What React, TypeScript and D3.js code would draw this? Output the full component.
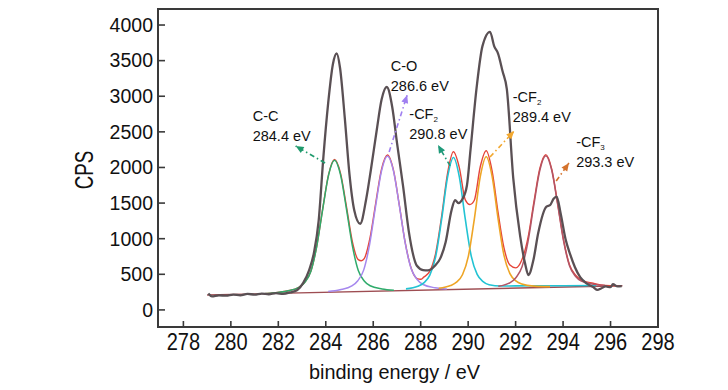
import React from 'react';
import * as d3 from 'd3';

// measured XPS C1s spectrum (binding energy eV, counts per second)
const rawEnergy = [279.05, 279.2, 279.5, 279.8, 280.1, 280.4, 280.7, 281.0, 281.3, 281.6, 281.9, 282.2, 282.5, 282.8, 283.05, 283.3, 283.5, 283.7, 283.9, 284.1, 284.3, 284.46, 284.6, 284.8, 285.0, 285.2, 285.45, 285.7, 285.9, 286.15, 286.35, 286.57, 286.8, 287.0, 287.26, 287.5, 287.84, 288.1, 288.3, 288.6, 288.82, 289.05, 289.3, 289.45, 289.6, 289.75, 289.95, 290.1, 290.36, 290.6, 290.92, 291.1, 291.26, 291.45, 291.63, 291.9, 292.19, 292.4, 292.54, 292.75, 292.95, 293.3, 293.45, 293.6, 293.73, 293.9, 294.1, 294.3, 294.5, 294.72, 295.0, 295.27, 295.45, 295.6, 295.8, 296.0, 296.1, 296.3, 296.47];
const rawCps = [230, 190, 205, 200, 215, 205, 225, 215, 230, 220, 235, 225, 245, 280, 380, 560, 800, 1250, 2150, 2900, 3450, 3600, 3400, 2700, 1900, 1400, 1210, 1550, 1965, 2530, 2950, 3130, 2850, 2350, 1730, 1100, 620, 560, 555, 620, 720, 950, 1400, 1540, 1500, 1550, 1750, 2250, 3130, 3700, 3905, 3700, 3600, 3350, 3100, 1850, 1040, 650, 490, 700, 1076, 1450, 1470, 1560, 1590, 1350, 1000, 780, 600, 460, 370, 320, 280, 300, 330, 320, 360, 330, 335];

// fitted components
const ccEnergy = [281.4, 281.87, 282.37, 282.87, 283.12, 283.37, 283.62, 283.87, 284.12, 284.37, 284.62, 284.87, 285.12, 285.37, 285.62, 285.87, 286.37, 286.87];
const ccCps = [228, 240, 265, 317, 389, 539, 893, 1413, 1896, 2100, 1899, 1420, 902, 553, 407, 339, 295, 277];

const coEnergy = [284.1, 284.6, 285.1, 285.35, 285.6, 285.85, 286.1, 286.35, 286.6, 286.85, 287.1, 287.35, 287.6, 287.85, 288.1, 288.6, 289.1];
const coCps = [257, 282, 336, 410, 562, 924, 1457, 1952, 2160, 1955, 1464, 935, 577, 427, 357, 311, 294];

const cf2aEnergy = [287.38, 287.88, 288.13, 288.38, 288.63, 288.88, 289.13, 289.38, 289.63, 289.88, 290.13, 290.38, 290.63, 290.88, 291.38, 292.0, 293.0, 294.0, 295.4];
const cf2aCps = [295, 332, 380, 484, 745, 1266, 1860, 2140, 1864, 1273, 756, 498, 398, 354, 335, 338, 339, 340, 342];

const cf2bEnergy = [288.76, 289.26, 289.51, 289.76, 290.01, 290.26, 290.51, 290.76, 291.01, 291.26, 291.51, 291.76, 292.01, 292.26, 292.76, 293.45];
const cf2bCps = [304, 342, 390, 494, 755, 1276, 1870, 2150, 1874, 1283, 766, 509, 408, 364, 334, 327];

const cf3Energy = [291.27, 291.77, 292.02, 292.27, 292.52, 292.77, 293.02, 293.27, 293.52, 293.77, 294.02, 294.27, 294.52, 294.77, 295.27, 295.77];
const cf3Cps = [331, 383, 455, 605, 957, 1477, 1960, 2165, 1964, 1485, 969, 619, 473, 405, 361, 344];

// fit envelope
const envEnergy = [281.4, 281.87, 282.37, 282.87, 283.12, 283.37, 283.62, 283.87, 284.12, 284.37, 284.62, 284.87, 285.12, 285.37, 285.5, 285.62, 285.87, 286.1, 286.35, 286.6, 286.85, 287.1, 287.35, 287.6, 287.85, 288.0, 288.13, 288.38, 288.63, 288.88, 289.13, 289.38, 289.63, 289.88, 290.07, 290.26, 290.51, 290.76, 291.01, 291.26, 291.51, 291.76, 292.01, 292.26, 292.52, 292.77, 293.02, 293.27, 293.52, 293.77, 294.02, 294.27, 294.52, 294.77, 295.27, 295.77, 296.3];
const envCps = [228, 240, 265, 318, 390, 541, 896, 1418, 1904, 2112, 1920, 1455, 960, 705, 690, 720, 1020, 1490, 1975, 2175, 1965, 1470, 940, 585, 440, 430, 460, 540, 795, 1310, 1915, 2220, 1995, 1545, 1480, 1540, 2010, 2235, 1950, 1370, 870, 630, 590, 700, 1010, 1515, 1985, 2180, 1980, 1500, 985, 635, 490, 420, 375, 345, 340];

const baseEnergy = [279.0, 296.5];
const baseCps = [210, 340];

const xTicks = [278, 280, 282, 284, 286, 288, 290, 292, 294, 296, 298];
const yTicks = [0, 500, 1000, 1500, 2000, 2500, 3000, 3500, 4000];

// peak labels: name, subscript, energy text
const labelName = ['C-C', 'C-O', '-CF', '-CF', '-CF'];
const labelSub = ['', '', '2', '2', '3'];
const labelEv = ['284.4 eV', '286.6 eV', '290.8 eV', '289.4 eV', '293.3 eV'];
const labelColor = ['#1f9a6c', '#a07ff0', '#1f9a7a', '#f2a830', '#d4722c'];
// text anchor and arrow tail/head in data coords
const labelAt = [[280.92, 2653], [286.74, 3359], [287.52, 2681], [291.88, 2923], [294.55, 2288]];
const arrowTail = [[283.97, 2063], [286.67, 2218], [289.24, 2021], [290.92, 2147], [293.71, 1810]];
const arrowHead = [[282.73, 2302], [287.43, 3018], [288.73, 2316], [291.94, 2512], [294.25, 2063]];

const W = 728, H = 390;
const left = 158, right = 658, top = 9, bottom = 327;

export default function App() {
  const x = d3.scaleLinear().domain([276.93, 298]).range([left, right]);
  const y = d3.scaleLinear().domain([-240, 4225]).range([bottom, top]);

  const line = (xs: number[], ys: number[], curve: any = d3.curveMonotoneX) =>
    d3.line<number>().x((d, i) => x(xs[i])).y((d) => y(d)).curve(curve)(ys) || '';

  // envelope sits under the components, raw data on top
  const series = [
    { xs: baseEnergy, ys: baseCps, color: '#9e4d52', w: 1.4, curve: d3.curveLinear },
    { xs: envEnergy, ys: envCps, color: '#e5453a', w: 1.4 },
    { xs: ccEnergy, ys: ccCps, color: '#2fab6b', w: 1.5 },
    { xs: coEnergy, ys: coCps, color: '#a688ee', w: 1.5 },
    { xs: cf2aEnergy, ys: cf2aCps, color: '#22c3d3', w: 1.6 },
    { xs: cf2bEnergy, ys: cf2bCps, color: '#eea526', w: 1.6 },
    { xs: cf3Energy, ys: cf3Cps, color: '#b25566', w: 1.5 },
    { xs: rawEnergy, ys: rawCps, color: '#5a5054', w: 2.3 },
  ];

  const font = 'Liberation Sans, Arial, sans-serif';

  return (
    <svg width={W} height={H} style={{ position: 'absolute', left: 0, top: 0, background: '#fff' }} fontFamily={font}>
      {series.map((s, i) => (
        <path key={i} d={line(s.xs, s.ys, s.curve)} fill="none" stroke={s.color} strokeWidth={s.w} strokeLinejoin="round" />
      ))}

      {labelName.map((name, i) => {
        const [tx, ty] = labelAt[i];
        const [x1, y1] = arrowTail[i];
        const [x2, y2] = arrowHead[i];
        const px1 = x(x1), py1 = y(y1), px2 = x(x2), py2 = y(y2);
        const ang = Math.atan2(py2 - py1, px2 - px1) * 180 / Math.PI;
        return (
          <g key={i}>
            <line x1={px1} y1={py1} x2={px2} y2={py2} stroke={labelColor[i]} strokeWidth={1.6} strokeDasharray="5,3,1.5,3" />
            <path d="M0,0 L-8,-3.5 L-8,3.5 Z" fill={labelColor[i]} transform={`translate(${px2},${py2}) rotate(${ang})`} />
            <text x={x(tx)} y={y(ty)} fontSize={14.5} fill="#111">
              {name}
              {labelSub[i] && <tspan fontSize={8} dy={3}>{labelSub[i]}</tspan>}
            </text>
            <text x={x(tx)} y={y(ty) + 20} fontSize={14.5} fill="#111">{labelEv[i]}</text>
          </g>
        );
      })}

      <rect x={left} y={top} width={right - left} height={bottom - top} fill="none" stroke="#3a3a3a" strokeWidth={2} />

      {yTicks.map((t) => (
        <g key={t}>
          <line x1={left} x2={left + 7} y1={y(t)} y2={y(t)} stroke="#3a3a3a" strokeWidth={1.6} />
          <text x={left - 5} y={y(t)} dy="0.35em" textAnchor="end" fontSize={19.5} fill="#111">{t}</text>
        </g>
      ))}

      {xTicks.map((t) => (
        <g key={t}>
          <line x1={x(t)} x2={x(t)} y1={bottom} y2={bottom - 6} stroke="#3a3a3a" strokeWidth={1.6} />
          <text transform={`translate(${x(t)},350) scale(0.87,1)`} textAnchor="middle" fontSize={23} fill="#111">{t}</text>
        </g>
      ))}

      <text transform="translate(394.5,379) scale(0.945,1)" textAnchor="middle" fontSize={21} fill="#111">binding energy / eV</text>
      <text transform="translate(93,170) rotate(-90) scale(0.72,1)" textAnchor="middle" fontSize={26} fill="#111">CPS</text>
    </svg>
  );
}
